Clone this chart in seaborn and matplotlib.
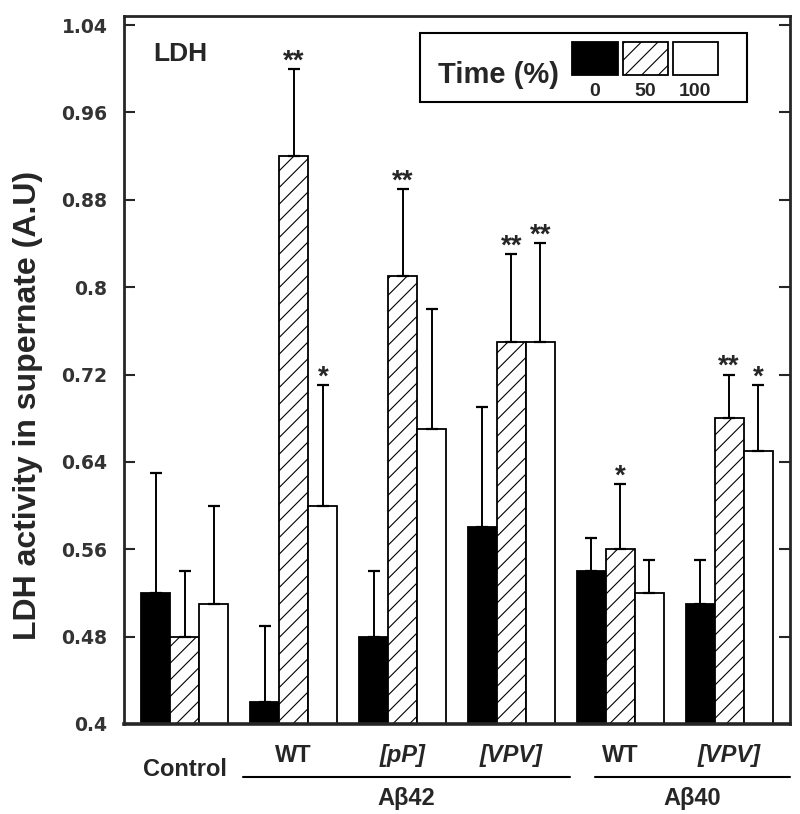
import pandas as pd
import matplotlib
matplotlib.use('Agg')
import matplotlib.pyplot as plt
import matplotlib.transforms as mtransforms
from matplotlib.patches import Rectangle
import seaborn as sns

# LDH activity (mean and upward SD)
groups = ['Control', 'Aβ42 WT', 'Aβ42 [pP]', 'Aβ42 [VPV]', 'Aβ40 WT', 'Aβ40 [VPV]']
times = ['0', '50', '100']
mean_0 = [0.52, 0.42, 0.48, 0.58, 0.54, 0.51]
mean_50 = [0.48, 0.92, 0.81, 0.75, 0.56, 0.68]
mean_100 = [0.51, 0.60, 0.67, 0.75, 0.52, 0.65]
sd_0 = [0.11, 0.07, 0.06, 0.11, 0.03, 0.04]
sd_50 = [0.06, 0.08, 0.08, 0.08, 0.06, 0.04]
sd_100 = [0.09, 0.11, 0.11, 0.09, 0.03, 0.06]
stars_0 = ['', '', '', '', '', '']
stars_50 = ['', '**', '**', '**', '*', '**']
stars_100 = ['', '*', '', '**', '', '*']
sub_labels = ['Control', 'WT', '[pP]', '[VPV]', 'WT', '[VPV]']
yticks = [0.4, 0.48, 0.56, 0.64, 0.72, 0.8, 0.88, 0.96, 1.04]

means = {'0': mean_0, '50': mean_50, '100': mean_100}
sds = {'0': sd_0, '50': sd_50, '100': sd_100}
stars = {'0': stars_0, '50': stars_50, '100': stars_100}

rows = []
for t in times:
    for i, g in enumerate(groups):
        rows.append({'group': g, 'time': t, 'ldh': means[t][i],
                     'sd': sds[t][i], 'star': stars[t][i]})
df = pd.DataFrame(rows)

sns.set_style('ticks')
plt.rcParams['font.family'] = ['Liberation Sans', 'DejaVu Sans']
plt.rcParams['hatch.linewidth'] = 0.8

fig = plt.figure(figsize=(8, 8.14), dpi=100)
ax = fig.add_axes([0.155, 0.1106, 0.8325, 0.87])

face = {'0': 'black', '50': 'white', '100': 'white'}
sns.barplot(data=df, x='group', y='ldh', hue='time', hue_order=times,
            palette=face, edgecolor='black', linewidth=1.3, width=0.8,
            saturation=1, legend=False, ax=ax)

# hatch the 50 % bars, add error bars and stars
for t, cont in zip(times, ax.containers):
    sub = df[df['time'] == t].reset_index(drop=True)
    for i, bar in enumerate(cont.patches):
        if t == '50':
            bar.set_hatch('//')
        xc = bar.get_x() + bar.get_width() / 2
        top = bar.get_height()
        ax.errorbar(xc, top, yerr=[[0], [sub.loc[i, 'sd']]], fmt='none',
                    ecolor='black', elinewidth=1.4, capsize=4.5, capthick=1.6)
        if sub.loc[i, 'star']:
            ax.text(xc, top + sub.loc[i, 'sd'] - 0.005, sub.loc[i, 'star'],
                    ha='center', va='bottom', fontsize=20, fontweight='bold')

ax.set_ylim(0.4, 1.0485)
ax.set_xlim(-0.56, 5.56)
ax.set_yticks(yticks)
ax.set_yticklabels([f'{v:g}' for v in yticks], family='DejaVu Sans',
                   fontweight='bold', fontsize=13.5, color='#333333')
ax.set_xticks([])
ax.set_xlabel('')
ax.tick_params(axis='y', direction='in', length=8, width=1.5, pad=12,
               left=True, right=True)
for s in ax.spines.values():
    s.set_visible(True)
    s.set_linewidth(2.0)
ax.spines['bottom'].set_linewidth(2.6)

ax.set_ylabel('LDH activity in supernate (A.U)', fontsize=23, fontweight='bold')
ax.yaxis.set_label_coords(-0.122, 0.45)

# group labels under the axis
trans = mtransforms.blended_transform_factory(ax.transData, ax.transAxes)
for i, lab in enumerate(sub_labels):
    style = 'italic' if lab.startswith('[') else 'normal'
    y = -0.064 if lab == 'Control' else -0.045
    ax.text(i, y, lab, transform=trans, ha='center', va='center',
            fontsize=17, fontweight='bold', style=style)
for x0, x1, name in [(0.53, 3.54, 'Aβ42'), (3.77, 5.56, 'Aβ40')]:
    ax.plot([x0, x1], [-0.075, -0.075], transform=trans, color='black',
            lw=1.5, clip_on=False)
    ax.text((x0 + x1) / 2, -0.105, name, transform=trans, ha='center',
            va='center', fontsize=17, fontweight='bold')

ax.text(0.0435, 0.946, 'LDH', transform=ax.transAxes, ha='left', va='center',
        fontsize=19, fontweight='bold')

# legend box drawn by hand: title left, swatches with labels beneath
ax.add_patch(Rectangle((0.444, 0.878), 0.491, 0.098, transform=ax.transAxes,
                       fill=False, edgecolor='black', lw=1.5, clip_on=False))
ax.text(0.471, 0.917, 'Time (%)', transform=ax.transAxes, ha='left',
        va='center', fontsize=21, fontweight='bold')
swatches = [(0.673, 'black', ''), (0.749, 'white', '//'), (0.824, 'white', '')]
for (x, fc, h), t in zip(swatches, times):
    ax.add_patch(Rectangle((x, 0.917), 0.068, 0.046, transform=ax.transAxes,
                           facecolor=fc, edgecolor='black', lw=1.3, hatch=h))
    ax.text(x + 0.034, 0.893, t, transform=ax.transAxes, ha='center',
            va='center', fontsize=14, fontweight='bold')

fig.savefig('out.png', dpi=100)
